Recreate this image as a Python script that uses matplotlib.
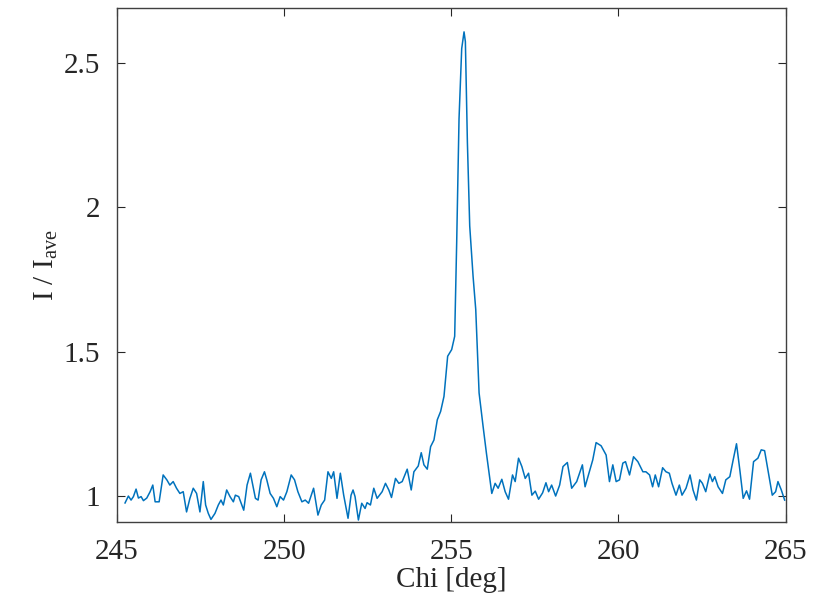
import numpy as np
from matplotlib import pyplot as plt

# Chi [deg] and normalised intensity I / I_ave
chi = [
    245.24, 245.34, 245.42, 245.49, 245.57, 245.64, 245.72, 245.79, 245.89, 245.99,
    246.07, 246.14, 246.26, 246.38, 246.49, 246.58, 246.68, 246.78, 246.88, 246.98,
    247.08, 247.18, 247.28, 247.38, 247.48, 247.58, 247.65, 247.73, 247.81, 247.93,
    248.03, 248.11, 248.18, 248.28, 248.38, 248.48, 248.54, 248.64, 248.79, 248.89,
    248.99, 249.06, 249.14, 249.22, 249.31, 249.41, 249.48, 249.58, 249.68, 249.78,
    249.88, 249.98, 250.08, 250.21, 250.31, 250.41, 250.53, 250.63, 250.73, 250.88,
    251.01, 251.11, 251.21, 251.31, 251.41, 251.48, 251.58, 251.68, 251.78, 251.91,
    252.00, 252.06, 252.12, 252.22, 252.32, 252.42, 252.48, 252.58, 252.68, 252.78,
    252.93, 253.03, 253.13, 253.21, 253.33, 253.43, 253.53, 253.68, 253.80, 253.88,
    254.01, 254.10, 254.18, 254.28, 254.38, 254.48, 254.58, 254.68, 254.78, 254.89,
    255.01, 255.10, 255.16, 255.23, 255.31, 255.38, 255.42, 255.48, 255.55, 255.65,
    255.73, 255.83, 255.95, 256.05, 256.21, 256.31, 256.40, 256.51, 256.61, 256.71,
    256.83, 256.91, 257.01, 257.11, 257.21, 257.31, 257.41, 257.51, 257.61, 257.73,
    257.83, 257.91, 258.00, 258.12, 258.24, 258.34, 258.47, 258.60, 258.75, 258.92,
    259.00, 259.13, 259.23, 259.33, 259.48, 259.63, 259.73, 259.83, 259.93, 260.03,
    260.13, 260.21, 260.33, 260.45, 260.58, 260.73, 260.82, 260.93, 261.02, 261.10,
    261.20, 261.32, 261.42, 261.52, 261.60, 261.72, 261.82, 261.90, 262.02, 262.14,
    262.23, 262.33, 262.43, 262.51, 262.61, 262.73, 262.81, 262.88, 262.98, 263.11,
    263.21, 263.33, 263.43, 263.53, 263.63, 263.73, 263.83, 263.92, 264.04, 264.17,
    264.27, 264.37, 264.47, 264.60, 264.70, 264.77, 264.87, 264.97,
]
intensity = [
    0.976, 1.000, 0.986, 0.998, 1.024, 0.993, 0.998, 0.984, 0.993, 1.015,
    1.038, 0.980, 0.980, 1.073, 1.056, 1.038, 1.050, 1.027, 1.009, 1.015,
    0.945, 0.992, 1.027, 1.009, 0.945, 1.050, 0.969, 0.940, 0.919, 0.940,
    0.969, 0.986, 0.969, 1.021, 0.998, 0.980, 1.003, 0.998, 0.951, 1.038,
    1.079, 1.038, 0.992, 0.986, 1.056, 1.084, 1.056, 1.009, 0.992, 0.963,
    0.998, 0.986, 1.015, 1.073, 1.056, 1.015, 0.980, 0.986, 0.975, 1.027,
    0.934, 0.969, 0.986, 1.084, 1.061, 1.084, 0.992, 1.079, 1.003, 0.923,
    1.003, 1.021, 0.998, 0.917, 0.975, 0.957, 0.977, 0.969, 1.027, 0.992,
    1.015, 1.044, 1.021, 0.995, 1.061, 1.044, 1.050, 1.093, 1.021, 1.084,
    1.104, 1.150, 1.108, 1.093, 1.171, 1.194, 1.264, 1.293, 1.345, 1.484,
    1.507, 1.553, 1.878, 2.306, 2.549, 2.607, 2.573, 2.226, 1.935, 1.761,
    1.646, 1.357, 1.241, 1.148, 1.009, 1.044, 1.027, 1.058, 1.015, 0.989,
    1.073, 1.050, 1.131, 1.102, 1.061, 1.079, 1.003, 1.017, 0.989, 1.011,
    1.046, 1.015, 1.038, 1.000, 1.038, 1.102, 1.116, 1.027, 1.050, 1.108,
    1.032, 1.084, 1.125, 1.185, 1.174, 1.142, 1.050, 1.108, 1.050, 1.056,
    1.114, 1.119, 1.073, 1.136, 1.119, 1.084, 1.084, 1.073, 1.032, 1.073,
    1.032, 1.098, 1.084, 1.079, 1.044, 1.003, 1.038, 1.003, 1.027, 1.073,
    1.021, 0.986, 1.056, 1.044, 1.015, 1.076, 1.050, 1.067, 1.032, 1.009,
    1.056, 1.067, 1.125, 1.181, 1.090, 0.992, 1.018, 0.989, 1.119, 1.131,
    1.160, 1.157, 1.090, 1.003, 1.015, 1.050, 1.021, 0.986,
]

x_ticks = [245, 250, 255, 260, 265]
y_ticks = [1, 1.5, 2, 2.5]
y_tick_labels = ['1', '1.5', '2', '2.5']

plt.rcParams['font.family'] = ['Liberation Serif', 'DejaVu Serif']
plt.rcParams['mathtext.fontset'] = 'custom'
plt.rcParams['mathtext.rm'] = 'Liberation Serif'
plt.rcParams['mathtext.it'] = 'Liberation Serif:italic'

fig = plt.figure(figsize=(8.27, 6.08), dpi=100)
ax = fig.add_axes([0.1415, 0.1414, 0.8085, 0.8456])

ax.plot(chi, intensity, color='#0072BD', linewidth=1.1)

ax.set_xlim(245, 265)
ax.set_ylim(0.91, 2.69)
ax.set_xticks(x_ticks)
ax.set_yticks(y_ticks)
ax.set_yticklabels(y_tick_labels)

ax.tick_params(direction='in', top=True, right=True, length=6, width=0.8,
               color='#262626', labelsize=21, labelcolor='#262626', pad=12)
for sp in ax.spines.values():
    sp.set_color('#404040')
    sp.set_linewidth(1.0)

ax.set_xlabel('Chi [deg]', fontsize=21, color='#262626', labelpad=2)
ax.set_ylabel(r'I / I$_{\mathrm{ave}}$', fontsize=21, color='#262626', labelpad=3)

fig.savefig('out.png', dpi=100)
